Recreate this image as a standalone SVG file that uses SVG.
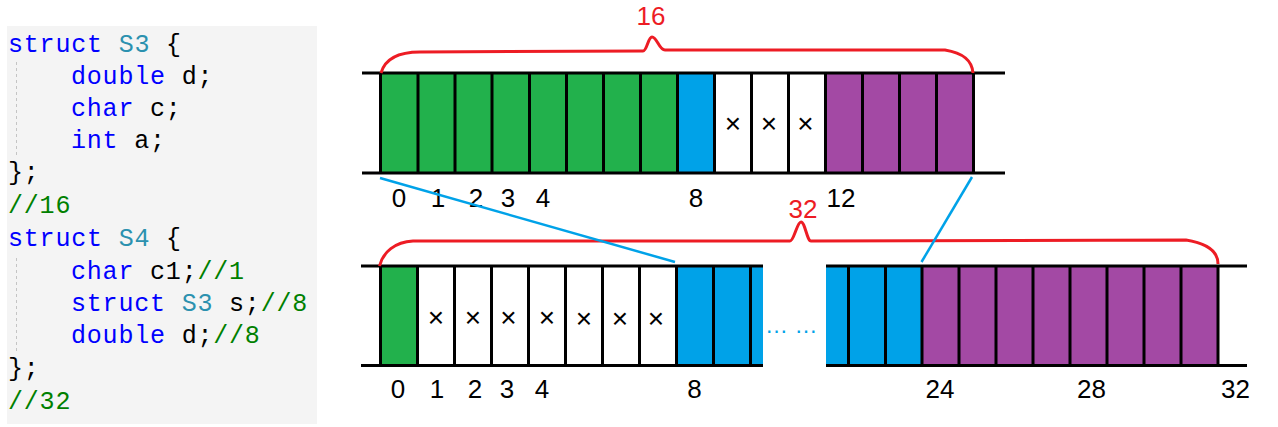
<svg xmlns="http://www.w3.org/2000/svg" width="1278" height="427" viewBox="0 0 1278 427">
<style>
.code{font-family:"Liberation Mono","DejaVu Sans Mono",monospace;font-size:25px;letter-spacing:0.8px;fill:#000}
.kw{fill:#0000ff}.ty{fill:#2b91af}.cm{fill:#008000}
.num{font-family:"Liberation Sans","Noto Sans",sans-serif;font-size:26px;fill:#000;text-anchor:middle}
.red{font-family:"Liberation Sans","Noto Sans",sans-serif;font-size:26px;fill:#ed1c24;text-anchor:middle}
.x{font-family:"Liberation Sans","DejaVu Sans",sans-serif;font-size:28px;fill:#000;text-anchor:middle}
.g{fill:#22b14c}.b{fill:#00a2e8}.p{fill:#a349a4}.w{fill:#fff}
.bd{stroke:#000;stroke-width:3;fill:none}
.brace{stroke:#ed1c24;stroke-width:3;fill:none}
.conn{stroke:#00a2e8;stroke-width:2.5;fill:none}
.guide{stroke:#c4c4c4;stroke-width:1;stroke-dasharray:3 3}
</style>
<rect width="1278" height="427" fill="#fff"/>
<g id="code">
<rect x="7" y="26" width="310" height="398" fill="#f4f4f4"/>
<line class="guide" x1="16.5" y1="62" x2="16.5" y2="157"/>
<line class="guide" x1="16.5" y1="258" x2="16.5" y2="352"/>
<text class="code" xml:space="preserve"><tspan x="8" y="52"><tspan class="kw">struct</tspan> <tspan class="ty">S3</tspan> {</tspan><tspan x="71" y="84"><tspan class="kw">double</tspan> d;</tspan><tspan x="71" y="116"><tspan class="kw">char</tspan> c;</tspan><tspan x="71" y="148"><tspan class="kw">int</tspan> a;</tspan><tspan x="8" y="180">};</tspan><tspan x="8" y="213" class="cm">//16</tspan><tspan x="8" y="246"><tspan class="kw">struct</tspan> <tspan class="ty">S4</tspan> {</tspan><tspan x="71" y="279"><tspan class="kw">char</tspan> c1;<tspan class="cm">//1</tspan></tspan><tspan x="71" y="311"><tspan class="kw">struct</tspan> <tspan class="ty">S3</tspan> s;<tspan class="cm">//8</tspan></tspan><tspan x="71" y="343"><tspan class="kw">double</tspan> d;<tspan class="cm">//8</tspan></tspan><tspan x="8" y="376">};</tspan><tspan x="8" y="409" class="cm">//32</tspan></text>
</g>
<g id="row-s3">
<rect class="g" x="380.5" y="73" width="297" height="100"/>
<rect class="b" x="677.5" y="73" width="37" height="100"/>
<rect class="w" x="714.5" y="73" width="111" height="100"/>
<rect class="p" x="825.5" y="73" width="148" height="100"/>
<path class="bd" d="M362 73H1005M362 173H1005M380.5 73V173M418 73V173M455 73V173M492 73V173M529.5 73V173M566.5 73V173M603.5 73V173M640.5 73V173M677.5 73V173M714.5 73V173M751.5 73V173M788.5 73V173M825.5 73V173M862.5 73V173M899.5 73V173M936.5 73V173M973.5 73V173"/>
<text class="x" x="733" y="133">×</text>
<text class="x" x="769" y="133">×</text>
<text class="x" x="805.5" y="133">×</text>
<text class="num" y="207"><tspan x="399">0</tspan><tspan x="438">1</tspan><tspan x="476">2</tspan><tspan x="508">3</tspan><tspan x="543">4</tspan><tspan x="696">8</tspan><tspan x="841">12</tspan></text>
</g>
<g id="brace-16">
<path class="brace" d="M381 73C385 59 399 52 420 52L643 51C647 51 648 37 652 37C657 37 659 50 665 50L945 50C963 53 972 60 973 73"/>
<text class="red" x="651" y="25">16</text>
</g>
<g id="row-s4">
<rect class="g" x="380.5" y="266" width="37" height="99.5"/>
<rect class="w" x="417.5" y="266" width="259" height="99.5"/>
<rect class="b" x="676.5" y="266" width="86.5" height="99.5"/>
<path class="bd" d="M361 266H763M361 365.5H763M380.5 266V365.5M417.5 266V365.5M454.5 266V365.5M491.5 266V365.5M528.5 266V365.5M565.5 266V365.5M602.5 266V365.5M639.5 266V365.5M676.5 266V365.5M713.5 266V365.5M750.5 266V365.5"/>
<text class="x" x="436" y="327">×</text>
<text class="x" x="473" y="327">×</text>
<text class="x" x="508.5" y="327">×</text>
<text class="x" x="547" y="327">×</text>
<text class="x" x="584" y="328">×</text>
<text class="x" x="620" y="328">×</text>
<text class="x" x="656" y="328">×</text>
<text x="765" y="333" font-family="Liberation Sans, sans-serif" font-size="23" fill="#00a2e8">… …</text>
<rect class="b" x="826" y="266" width="96" height="99.5"/>
<rect class="p" x="922" y="266" width="296" height="99.5"/>
<path class="bd" d="M826 266H1247M826 365.5H1247M848.5 266V365.5M885.5 266V365.5M922 266V365.5M959 266V365.5M996 266V365.5M1033 266V365.5M1070 266V365.5M1107 266V365.5M1144 266V365.5M1181 266V365.5M1218 266V365.5"/>
<text class="num" y="398"><tspan x="398">0</tspan><tspan x="437">1</tspan><tspan x="475">2</tspan><tspan x="507">3</tspan><tspan x="542">4</tspan><tspan x="694.5">8</tspan><tspan x="940">24</tspan><tspan x="1091.5">28</tspan><tspan x="1235.5">32</tspan></text>
</g>
<g id="brace-32">
<path class="brace" d="M379.5 266C383 252 395 242 413 241L790 241C794 241 797 222 801 222C805 222 807 241 811 241L1186 240C1205 243 1218 250 1218 264"/>
<text class="red" x="803" y="218">32</text>
</g>
<g id="connectors">
<line class="conn" x1="380" y1="178" x2="675" y2="262"/>
<line class="conn" x1="972" y1="177" x2="921.5" y2="262"/>
</g>
</svg>
